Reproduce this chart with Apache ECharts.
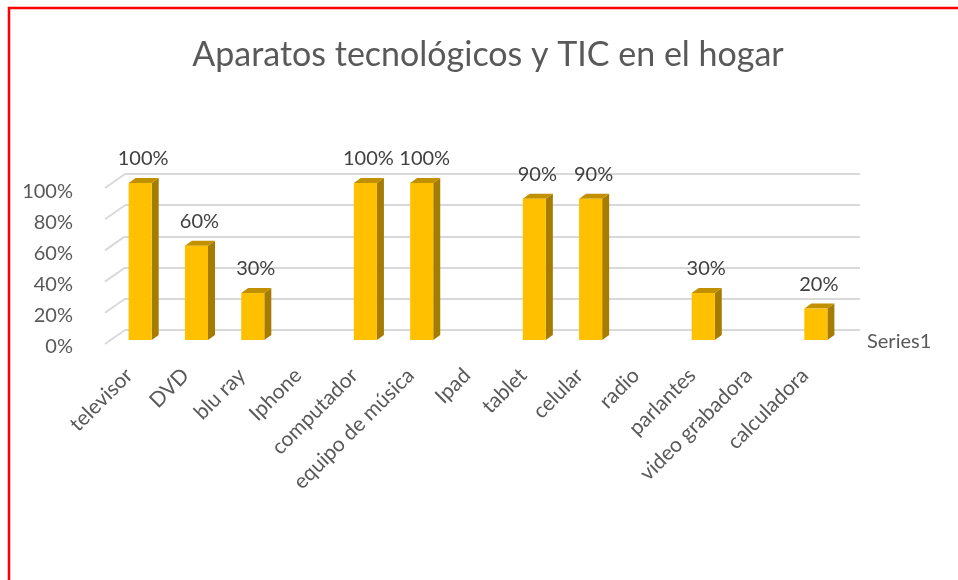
<!DOCTYPE html>
<html>
<head>
<meta charset="utf-8">
<script src="https://cdn.jsdelivr.net/npm/echarts@6/dist/echarts.min.js"></script>
<style>html,body{margin:0;padding:0;background:#fff}#c{width:958px;height:580px}</style>
</head>
<body>
<div id="c"></div>
<script>
var categories = ['televisor','DVD','blu ray','Iphone','computador','equipo de música','Ipad','tablet','celular','radio','parlantes','video grabadora','calculadora'];
var values = [1.0, 0.6, 0.3, null, 1.0, 1.0, null, 0.9, 0.9, null, 0.3, null, 0.2];
var yTicks = [0, 0.2, 0.4, 0.6, 0.8, 1.0];
var seriesName = 'Series1';
var titleText = 'Aparatos tecnológicos y TIC en el hogar';

var FONT = 'Lato, "Noto Sans", sans-serif';
var chart = echarts.init(document.getElementById('c'), null, {renderer: 'canvas'});
var DX = 7, DY = 5;

chart.setOption({
  animation: false,
  backgroundColor: '#ffffff',
  title: {
    text: titleText, left: 483, textAlign: 'center', top: 33,
    textStyle: {fontFamily: FONT, fontSize: 34, fontWeight: 'normal', color: '#595959'}
  },
  legend: {
    data: [seriesName], left: 857, top: 327, itemWidth: 0, itemHeight: 0, itemGap: 0,
    icon: 'rect',
    textStyle: {fontFamily: FONT, fontSize: 20, color: '#595959'}
  },
  graphic: [{
    type: 'rect', shape: {x: 9, y: 8, width: 960, height: 590},
    style: {fill: 'none', stroke: '#ff0000', lineWidth: 2.5}, silent: true
  }],
  grid: [
    {left: 125, width: 735, top: 174, height: 156},
    {left: 105, width: 735, top: 192, height: 155},
    {left: 112, width: 732, top: 183, height: 157},
    {left: 101, width: 732, top: 183, height: 157}
  ],
  xAxis: [
    {gridIndex: 0, type: 'value', min: 0, max: 1, show: false},
    {gridIndex: 1, type: 'value', min: 0, max: 1, show: false},
    {gridIndex: 2, type: 'category', data: categories, show: false},
    {gridIndex: 3, type: 'category', data: categories,
      axisLine: {show: false}, axisTick: {show: false},
      axisLabel: {rotate: 45, interval: 0, margin: 32, fontFamily: FONT, fontSize: 21, color: '#595959'}}
  ],
  yAxis: [
    {gridIndex: 0, type: 'value', min: 0, max: 1, interval: 0.2,
      axisLine: {show: false}, axisTick: {show: false}, axisLabel: {show: false},
      splitLine: {show: true, lineStyle: {color: '#d9d9d9', width: 2}}},
    {gridIndex: 1, type: 'value', min: 0, max: 1, interval: 0.2,
      axisLine: {show: false}, axisTick: {show: false}, splitLine: {show: false},
      axisLabel: {margin: 32, fontFamily: FONT, fontSize: 20, color: '#595959',
        formatter: function (v) { return Math.round(v * 100) + '%'; }}},
    {gridIndex: 2, type: 'value', min: 0, max: 1, show: false},
    {gridIndex: 3, type: 'value', min: 0, max: 1, show: false}
  ],
  series: [
    {
      type: 'custom', xAxisIndex: 0, yAxisIndex: 0, silent: true,
      data: yTicks.map(function (v) { return [0, v]; }),
      renderItem: function (params, api) {
        var p = api.coord([0, api.value(1)]);
        return {type: 'line', shape: {x1: p[0] - 20, y1: p[1] + 14, x2: p[0], y2: p[1]},
          style: {stroke: '#d9d9d9', lineWidth: 2}};
      }
    },
    {
      name: seriesName, type: 'custom', xAxisIndex: 2, yAxisIndex: 2,
      itemStyle: {color: '#ffc000'},
      data: values.map(function (v, i) { return [i, v]; }),
      renderItem: function (params, api) {
        var v = api.value(1);
        if (v == null || isNaN(v)) return null;
        var top = api.coord([api.value(0), v]);
        var bot = api.coord([api.value(0), 0]);
        var band = api.size([1, 0])[0];
        var w = band * 0.41;
        var x0 = top[0] - w / 2, x1 = top[0] + w / 2;
        var yt = top[1], yb = bot[1];
        return {type: 'group', children: [
          {type: 'polygon', shape: {points: [[x1, yb], [x1, yt], [x1 + DX, yt - DY], [x1 + DX, yb - DY]]},
            style: {fill: '#a67c00'}},
          {type: 'polygon', shape: {points: [[x0, yt], [x1, yt], [x1 + DX, yt - DY], [x0 + DX, yt - DY]]},
            style: {fill: '#c09000'}},
          {type: 'rect', shape: {x: x0, y: yt, width: w, height: yb - yt},
            style: {fill: '#ffc000'}},
          {type: 'text', x: top[0] + 3, y: yt - 24,
            style: {text: Math.round(v * 100) + '%', fontFamily: FONT, fontSize: 20, fill: '#404040',
              align: 'center', verticalAlign: 'middle'}}
        ]};
      }
    }
  ]
});
</script>
</body>
</html>
